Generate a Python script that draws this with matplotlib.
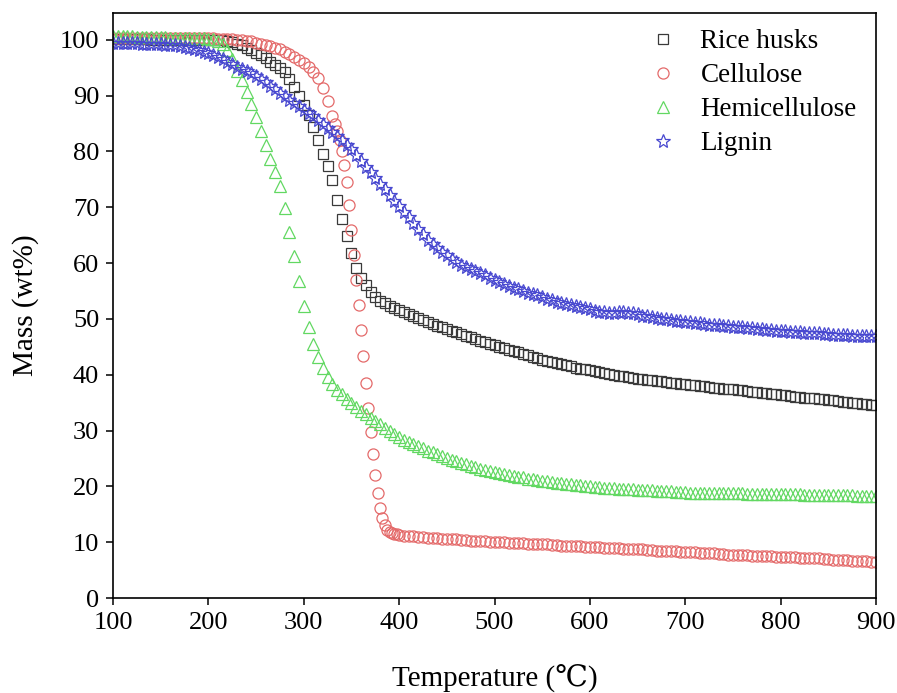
import matplotlib
matplotlib.use('Agg')
import matplotlib.pyplot as plt
import numpy as np

plt.rcParams['font.family'] = ['Liberation Serif', 'DejaVu Serif', 'DejaVu Sans']

# temperature grid (5 C steps), cellulose sampled finer through its sharp drop
temp = np.arange(100, 901, 5)
temp_cell = np.concatenate([np.arange(100, 326, 5), np.arange(330, 398, 2.5), np.arange(400, 901, 5)])

rice_husks = [
    100.1, 100.1, 100.1, 100.1, 100.1, 100.1, 100.1, 100.1, 100.0, 100.0,
    100.0, 100.0, 100.0, 100.0, 100.0, 100.0, 100.0, 100.0, 100.0, 100.0,
    100.0, 100.0, 99.9, 99.9,
    99.8, 99.6, 99.3, 99.0, 98.6, 98.2, 97.7, 97.2, 96.7, 96.1,
    95.5, 94.9, 94.2, 93.0, 91.6, 90.0, 88.3, 86.5, 84.4, 82.0,
    79.6, 77.4, 74.9, 71.3, 67.9, 64.8, 61.9, 59.2, 57.4, 56.0,
    54.9, 54.0, 53.3, 52.8, 52.4, 52.0,
    51.6, 51.2, 50.9, 50.5, 50.2, 49.8, 49.5, 49.1, 48.8, 48.5,
    48.2, 47.9, 47.6, 47.3, 47.0, 46.7, 46.4, 46.1, 45.8, 45.6,
    45.3, 45.0, 44.8, 44.5, 44.2, 44.0, 43.7, 43.5, 43.2, 43.0,
    42.7, 42.5, 42.3, 42.1, 41.9, 41.7, 41.5, 41.3, 41.1, 41.0,
    40.8, 40.6, 40.5, 40.3, 40.2, 40.0, 39.8, 39.7, 39.6, 39.4,
    39.3, 39.2, 39.1, 39.0, 38.9, 38.8, 38.7, 38.6, 38.5, 38.4,
    38.3, 38.2, 38.1, 38.0, 37.9, 37.8, 37.7, 37.6, 37.5, 37.5,
    37.4, 37.3, 37.2, 37.1, 37.0, 36.9, 36.8, 36.7, 36.6, 36.5,
    36.4, 36.3, 36.2, 36.1, 36.0, 35.9, 35.8, 35.8, 35.7, 35.6,
    35.5, 35.4, 35.3, 35.2, 35.1, 35.0, 34.9, 34.8, 34.7, 34.6,
    34.6]

cellulose = [
    100.4, 100.4, 100.4, 100.4, 100.4, 100.4, 100.4, 100.4, 100.4, 100.4,
    100.4, 100.4, 100.4, 100.4, 100.4, 100.3, 100.3, 100.3, 100.3, 100.3,
    100.3,
    100.3, 100.2, 100.2, 100.1, 100.1, 100.0, 99.9, 99.8, 99.7, 99.5,
    99.3, 99.1, 98.9, 98.6, 98.3, 97.9, 97.5, 97.0, 96.4, 95.8,
    95.1, 94.3, 93.1, 91.4, 89.0,
    # 330 - 397.5 every 2.5 C
    86.4, 85.0, 83.6, 82.0, 80.0, 77.6, 74.5, 70.5, 66.0, 61.5,
    57.0, 52.5, 48.0, 43.3, 38.5, 34.0, 29.8, 25.8, 22.0, 18.8,
    16.2, 14.3, 13.0, 12.2, 11.8, 11.6, 11.5, 11.4,
    # 400 - 900
    11.3, 11.2, 11.1, 11.1, 11.0, 10.9, 10.8, 10.8, 10.7, 10.6,
    10.6, 10.5, 10.5, 10.4, 10.4, 10.3, 10.3, 10.2, 10.2, 10.1,
    10.1,
    10.0, 10.0, 9.9, 9.9, 9.8, 9.8, 9.7, 9.7, 9.6, 9.6,
    9.6, 9.5, 9.5, 9.4, 9.4, 9.3, 9.3, 9.3, 9.2, 9.2,
    9.1, 9.1, 9.0, 9.0, 8.9, 8.9, 8.8, 8.8, 8.7, 8.7,
    8.7, 8.6, 8.6, 8.5, 8.5, 8.4, 8.4, 8.4, 8.3, 8.3,
    8.2, 8.2, 8.1, 8.1, 8.0, 8.0, 7.9, 7.9, 7.8, 7.8,
    7.8, 7.7, 7.7, 7.6, 7.6, 7.5, 7.5, 7.5, 7.4, 7.4,
    7.3, 7.3, 7.3, 7.2, 7.2, 7.1, 7.1, 7.1, 7.0, 7.0,
    6.9, 6.9, 6.8, 6.8, 6.7, 6.7, 6.6, 6.6, 6.5, 6.5]

hemicellulose = [
    100.6, 100.6, 100.6, 100.6, 100.6, 100.5, 100.5, 100.5, 100.5, 100.5,
    100.5, 100.5, 100.4, 100.4, 100.4, 100.4, 100.4, 100.3, 100.3, 100.3,
    100.2, 100.1,
    99.8, 99.2, 98.2, 96.6, 94.5, 92.8, 90.6, 88.5, 86.1, 83.6,
    81.2, 78.7, 76.4, 73.9, 69.8, 65.5, 61.3, 56.8, 52.3, 48.6,
    45.5, 43.2, 41.2, 39.6, 38.3, 37.3, 36.5, 35.7, 34.9, 34.2,
    33.5, 32.9, 32.3, 31.7, 31.1, 30.5, 29.9, 29.4,
    28.9, 28.4, 28.0, 27.6, 27.2, 26.8, 26.4, 26.1, 25.8, 25.4,
    25.1, 24.8, 24.5, 24.2, 24.0, 23.7, 23.5, 23.2, 23.0, 22.8,
    22.6, 22.4, 22.2, 22.0, 21.9, 21.7, 21.6, 21.4, 21.3, 21.2,
    21.0, 20.9, 20.8, 20.7, 20.6, 20.5, 20.4, 20.3, 20.2, 20.1,
    20.0, 19.9, 19.9, 19.8, 19.7, 19.7, 19.6, 19.6, 19.5, 19.5,
    19.4, 19.4, 19.3, 19.3, 19.2, 19.2, 19.1, 19.1, 19.0, 19.0,
    19.0, 18.9, 18.9, 18.9, 18.9, 18.9, 18.9, 18.8, 18.8, 18.8,
    18.8, 18.8, 18.8, 18.7, 18.7, 18.7, 18.7, 18.7, 18.7, 18.6,
    18.6, 18.6, 18.6, 18.6, 18.6, 18.5, 18.5, 18.5, 18.5, 18.5,
    18.5, 18.4, 18.4, 18.4, 18.4, 18.4, 18.3, 18.3, 18.3, 18.3,
    18.3]

lignin = [
    99.5, 99.5, 99.4, 99.4, 99.4, 99.4, 99.3, 99.3, 99.3, 99.2,
    99.2, 99.1, 99.1, 99.0, 98.9, 98.8, 98.6, 98.4, 98.2, 97.9,
    97.6, 97.3, 96.9, 96.5, 96.0, 95.6, 95.2, 94.8, 94.5, 94.0,
    93.5, 93.0, 92.4, 91.8, 91.2, 90.5, 89.9, 89.3, 88.7, 88.1,
    87.5, 86.9, 86.3, 85.7, 85.0, 84.2, 83.4, 82.7, 82.0, 81.2,
    80.4, 79.4, 78.3, 77.3, 76.3, 75.2, 74.2, 73.2, 72.2, 71.2,
    70.2, 69.2, 68.2, 67.2, 66.2, 65.2, 64.2, 63.4, 62.7, 62.0,
    61.4, 60.8, 60.2, 59.7, 59.3, 59.0, 58.6, 58.2, 57.8, 57.4,
    57.0, 56.6, 56.2, 55.9, 55.6, 55.3, 55.0, 54.7, 54.5, 54.2,
    53.9, 53.6, 53.4, 53.1, 52.9, 52.7, 52.5, 52.3, 52.1, 51.9,
    51.7, 51.5, 51.3, 51.2, 51.1, 51.1, 51.2, 51.2, 51.1, 51.0,
    50.8, 50.6, 50.5, 50.3, 50.2, 50.0, 49.9, 49.8, 49.7, 49.6,
    49.5, 49.4, 49.3, 49.2, 49.1, 49.0, 48.9, 48.9, 48.8, 48.7,
    48.6, 48.5, 48.5, 48.4, 48.3, 48.2, 48.2, 48.1, 48.0, 47.9,
    47.9, 47.8, 47.7, 47.7, 47.6, 47.5, 47.5, 47.4, 47.4, 47.3,
    47.3, 47.2, 47.2, 47.1, 47.1, 47.0, 47.0, 47.0, 46.9, 46.9,
    46.9]

labels = ['Rice husks', 'Cellulose', 'Hemicellulose', 'Lignin']

fig = plt.figure(figsize=(8.97, 6.93), dpi=100)
ax = fig.add_axes([0.126, 0.137, 0.8506, 0.8442])

mew = 0.9
ax.plot(temp, rice_husks, 's', ms=7.2, mfc='none', mec='#3a3a3a', mew=mew, label=labels[0])
ax.plot(temp_cell, cellulose, 'o', ms=8, mfc='none', mec='#e46a6a', mew=mew, label=labels[1])
ax.plot(temp, hemicellulose, '^', ms=8.5, mfc='none', mec='#62d862', mew=mew, label=labels[2])
ax.plot(temp, lignin, '*', ms=10, mfc='none', mec='#4848d0', mew=mew, label=labels[3])

ax.set_xlim(100, 900)
ax.set_ylim(0, 104.8)
ax.set_xticks(np.arange(100, 901, 100))
ax.set_yticks(np.arange(0, 101, 10))
ax.tick_params(direction='out', length=5, width=1.1, labelsize=19, pad=5)
for s in ax.spines.values():
    s.set_linewidth(1.2)

ax.set_xlabel('Temperature (℃)', fontsize=21, labelpad=22)
ax.set_ylabel('Mass (wt%)', fontsize=21, labelpad=15)

ax.legend(loc='upper left', bbox_to_anchor=(0.706, 0.972), frameon=False, fontsize=19.5,
          numpoints=1, handlelength=0.8, handletextpad=1.0, labelspacing=0.33,
          borderpad=0, borderaxespad=0)

fig.savefig('out.png', dpi=100)
